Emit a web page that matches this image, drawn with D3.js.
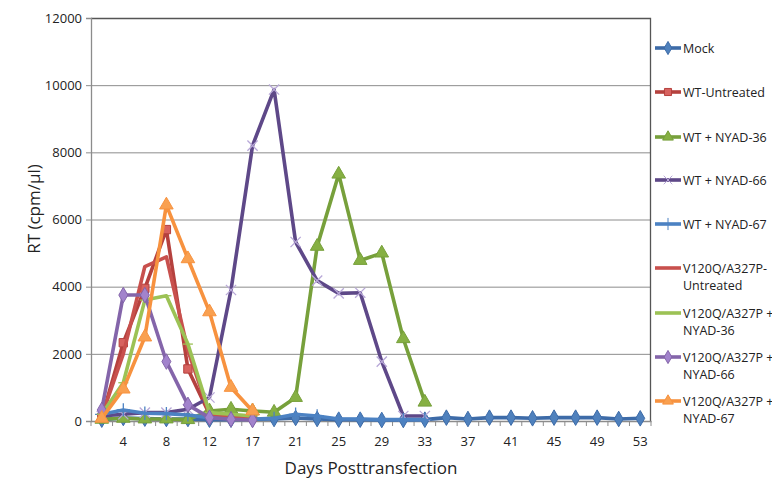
<!DOCTYPE html>
<html><head><meta charset="utf-8">
<script src="https://cdn.jsdelivr.net/npm/d3@7"></script>
<style>
html,body{margin:0;padding:0;background:#fff;}
svg{display:block;font-family:"Open Sans",sans-serif;}
</style></head>
<body><svg id="c" width="772" height="480"></svg>
<script>
const days = ["2","4","6","8","10","12","14","17","19","21","23","25","27","29","31","33","35","37","39","41","43","45","47","49","51","53"];
const xTickLabels = ["4","8","12","17","21","25","29","33","37","41","45","49","53"];
const yTicks = [0,2000,4000,6000,8000,10000,12000];
const seriesNames = ["Mock","WT-Untreated","WT + NYAD-36","WT + NYAD-66","WT + NYAD-67","V120Q/A327P-Untreated","V120Q/A327P + NYAD-36","V120Q/A327P + NYAD-66","V120Q/A327P + NYAD-67"];
const legendLines = [["Mock"],["WT-Untreated"],["WT + NYAD-36"],["WT + NYAD-66"],["WT + NYAD-67"],["V120Q/A327P-","Untreated"],["V120Q/A327P +","NYAD-36"],["V120Q/A327P +","NYAD-66"],["V120Q/A327P +","NYAD-67"]];
const mock      = [40,90,70,60,60,40,40,50,60,90,60,40,40,30,30,40,100,60,100,100,80,100,100,100,60,80];
const wtUntr    = [100,2330,3950,5700,1550,200,150,120,null,null,null,null,null,null,null,null,null,null,null,null,null,null,null,null,null,null];
const wt36      = [50,80,60,60,40,300,350,300,260,700,5200,7350,4780,5000,2450,560,null,null,null,null,null,null,null,null,null,null];
const wt66      = [150,200,250,250,350,700,3900,8200,9870,5330,4180,3800,3820,1770,150,150,null,null,null,null,null,null,null,null,null,null];
const wt67      = [200,330,230,220,180,100,80,60,80,200,150,60,60,40,40,40,null,null,null,null,null,null,null,null,null,null];
const vUntr     = [150,2000,4600,4890,2100,200,150,100,null,null,null,null,null,null,null,null,null,null,null,null,null,null,null,null,null,null];
const v36       = [200,1140,3600,3730,2290,250,200,150,null,null,null,null,null,null,null,null,null,null,null,null,null,null,null,null,null,null];
const v66       = [330,3750,3750,1770,480,100,50,30,null,null,null,null,null,null,null,null,null,null,null,null,null,null,null,null,null,null];
const v67       = [80,950,2500,6430,4830,3250,1000,300,null,null,null,null,null,null,null,null,null,null,null,null,null,null,null,null,null,null];
const seriesValues = [mock,wtUntr,wt36,wt66,wt67,vUntr,v36,v66,v67];
const lineColors = ["#3D6BA8","#B5413E","#77A03B","#5E4888","#4C82C3","#C8504D","#9CC255","#8465AA","#F7923F"];
const markerFill = ["#4F81BD","#D7625F","#86B043","#5E4888","#4C82C3","#C8504D","#9CC255","#A283CC","#F9A050"];
const markerStroke = ["#3D6BA8","#B5413E","#77A03B","#B8A8D8","#4C82C3","#C8504D","#9CC255","#8465AA","#F7923F"];
const markerTypes = ["diamond","square","triangle","x","plus","none","dash","diamond","triangle"];

const m = {left:91, right:651, top:18, bottom:421};
const svg = d3.select("#c");
const x = d3.scaleBand().domain(days).range([m.left, m.right]).padding(0);
const y = d3.scaleLinear().domain([0,12000]).range([m.bottom, m.top]);
const cx = d => x(d) + x.bandwidth()/2;

// gridlines
svg.append("g").attr("transform",`translate(${m.left},0)`)
  .call(d3.axisLeft(y).tickValues(yTicks).tickSize(-(m.right-m.left)).tickFormat(""))
  .call(g=>g.select(".domain").remove())
  .call(g=>g.selectAll("line").attr("stroke","#8c8c8c").attr("stroke-width",1));
// plot border top & right
svg.append("path").attr("d",`M${m.left},${m.top+0.5}H${m.right-0.5}V${m.bottom}`).attr("fill","none").attr("stroke","#555").attr("stroke-width",1.3);

// y axis
const ya = svg.append("g").attr("transform",`translate(${m.left},0)`)
  .call(d3.axisLeft(y).tickValues(yTicks).tickSize(5).tickPadding(4).tickFormat(d3.format("d")));
ya.select(".domain").attr("stroke","#8c8c8c").attr("stroke-width",1.3);
ya.selectAll("line").attr("stroke","#8c8c8c");
ya.selectAll("text").attr("font-size","13px").attr("fill","#222").attr("font-family","Open Sans");

// x axis
const xa = svg.append("g").attr("transform",`translate(0,${m.bottom})`)
  .call(d3.axisBottom(x).tickValues(xTickLabels).tickSize(0).tickPadding(16));
xa.select(".domain").attr("stroke","#8c8c8c").attr("stroke-width",1.3);
xa.selectAll("text").attr("font-size","13px").attr("fill","#222").attr("font-family","Open Sans");
// boundary ticks
svg.append("g").selectAll("line").data(days.concat(["end"])).join("line")
  .attr("x1",d=>d==="end"?m.right:x(d)).attr("x2",d=>d==="end"?m.right:x(d))
  .attr("y1",m.bottom).attr("y2",m.bottom+5).attr("stroke","#8c8c8c");

// symbols
function sym(type, size){
  switch(type){
    case "diamond": return d3.symbol(d3.symbolDiamond, size||70)();
    case "square": return d3.symbol(d3.symbolSquare, size||70)();
    case "triangle": return d3.symbol(d3.symbolTriangle, size||80)();
    case "x": return d3.symbol(d3.symbolX, size||70)();
    case "plus": return d3.symbol(d3.symbolPlus, size||60)();
    case "dash": return "M-5,0H5";
    default: return null;
  }
}
const line = d3.line().defined(d=>d.v!=null).x(d=>cx(d.day)).y(d=>y(d.v));
seriesValues.forEach((vals,i)=>{
  const pts = days.map((day,j)=>({day, v: vals[j]}));
  const g = svg.append("g");
  g.append("path").datum(pts).attr("d",line).attr("fill","none")
    .attr("stroke",lineColors[i]).attr("stroke-width",3.6).attr("stroke-linejoin","round");
  const t = markerTypes[i];
  if(t!=="none"){
    const stroked = (t==="x"||t==="plus"||t==="dash");
    g.selectAll("path.mk").data(pts.filter(p=>p.v!=null)).join("path").attr("class","mk")
      .attr("transform",p=>`translate(${cx(p.day)},${y(p.v)})`)
      .attr("d",sym(t))
      .attr("fill",stroked?"none":markerFill[i])
      .attr("stroke",markerStroke[i])
      .attr("stroke-width",stroked?1.3:1);
  }
});

// legend
const lg = svg.append("g");
const legY = [48,92,137,180,224,268,313,357,401];
legendLines.forEach((lines,i)=>{
  const yy = legY[i];
  lg.append("line").attr("x1",655).attr("x2",681).attr("y1",yy).attr("y2",yy)
    .attr("stroke",lineColors[i]).attr("stroke-width",3.6);
  const t = markerTypes[i];
  if(t!=="none" && t!=="dash"){
    const stroked = (t==="x"||t==="plus");
    lg.append("path").attr("transform",`translate(668,${yy})`).attr("d",sym(t,50))
      .attr("fill",stroked?"none":markerFill[i]).attr("stroke",markerStroke[i]);
  }
  lines.forEach((s,k)=>{
    lg.append("text").attr("x",683).attr("y",yy+4.5+k*17.5).attr("font-size","12.5px").attr("fill","#222").text(s);
  });
});

// axis titles
svg.append("text").attr("x",371).attr("y",474).attr("text-anchor","middle").attr("font-size","17px").attr("fill","#222").text("Days Posttransfection");
svg.append("text").attr("transform","translate(40,209) rotate(-90)").attr("text-anchor","middle").attr("font-size","17px").attr("fill","#222").text("RT (cpm/µl)");
</script></body></html>
